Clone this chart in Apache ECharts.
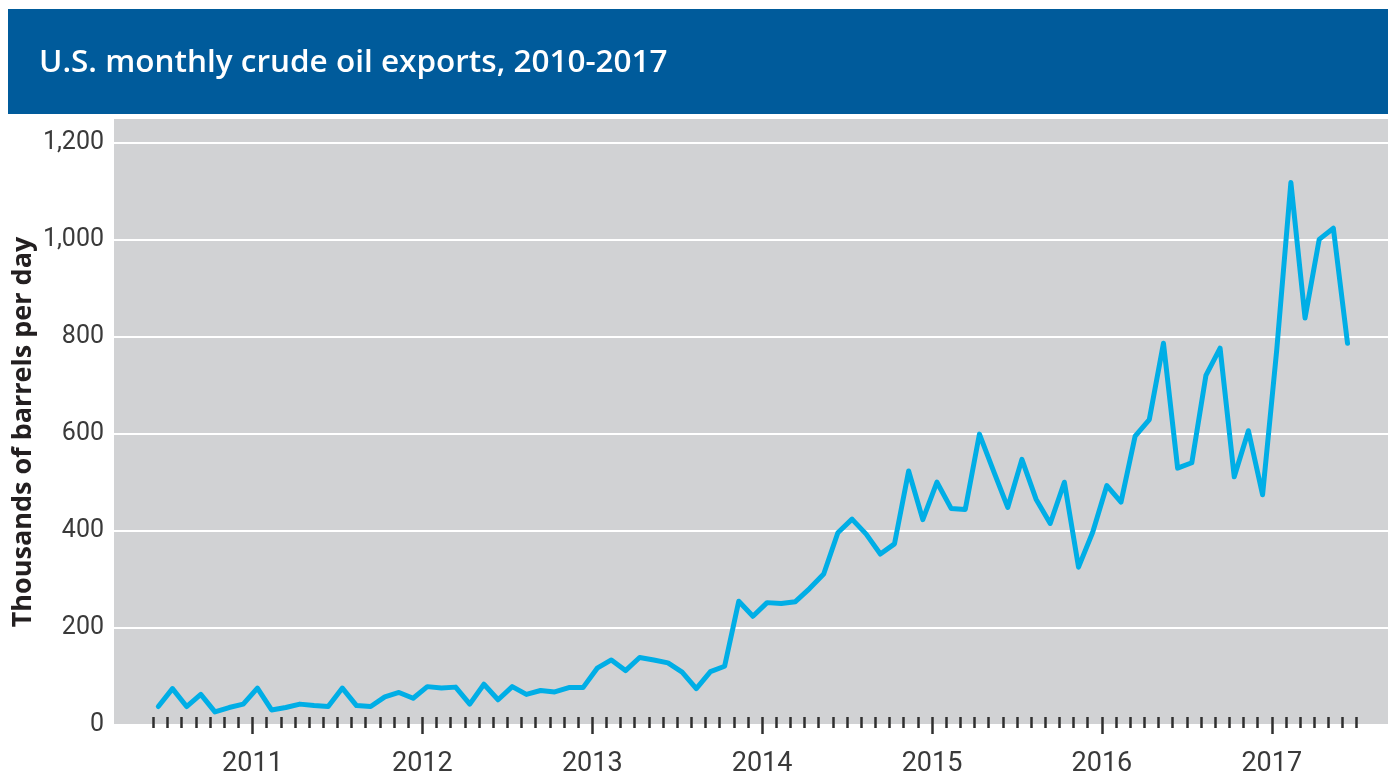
<!DOCTYPE html>
<html>
<head>
<meta charset="utf-8">
<script src="https://cdn.jsdelivr.net/npm/echarts@6/dist/echarts.min.js"></script>
<style>
  html, body { margin: 0; padding: 0; background: #ffffff; }
  #chart { width: 1388px; height: 778px; }
</style>
</head>
<body>
<div id="chart"></div>
<script>
// Titles
const TITLE = 'U.S. monthly crude oil exports, 2010-2017';
const Y_NAME = 'Thousands of barrels per day';

// Monthly crude oil exports, thousands of barrels per day
const exports2010 = [38, 75, 38, 63, 27, 36, 43];                                   // Jun–Dec
const exports2011 = [76, 31, 36, 43, 40, 38, 76, 40, 38, 58, 67, 55];
const exports2012 = [79, 76, 78, 43, 84, 52, 79, 63, 71, 68, 77, 77];
const exports2013 = [117, 134, 112, 139, 134, 128, 109, 75, 110, 121, 255, 224];
const exports2014 = [252, 250, 254, 281, 311, 396, 424, 393, 352, 373, 523, 423];
const exports2015 = [500, 446, 444, 599, 523, 448, 547, 465, 415, 500, 325, 397];
const exports2016 = [493, 459, 595, 629, 786, 529, 540, 720, 776, 511, 606, 474];
const exports2017 = [772, 1117, 838, 1000, 1023, 786];                              // Jan–Jun

// Axis ticks
const yTicks = [0, 200, 400, 600, 800, 1000, 1200];
const yearLabels = [2011, 2012, 2013, 2014, 2015, 2016, 2017];

// Months are counted from January 2010 (Jan 2010 = 0); the series starts in June 2010
const BASE_YEAR = 2010;
const FIRST_MONTH = 5;        // June 2010
const LAST_TICK_MONTH = 90;   // July 2017
const POINT_POS = 0.35;       // where a month's value sits inside its month slot

const values = [].concat(exports2010, exports2011, exports2012, exports2013,
                         exports2014, exports2015, exports2016, exports2017);
const seriesData = values.map((v, i) => [FIRST_MONTH + i + POINT_POS, v]);

const monthTicks = [];
for (let m = FIRST_MONTH; m <= LAST_TICK_MONTH; m++) monthTicks.push(m);
const yearTicks = yearLabels.map(y => (y - BASE_YEAR) * 12);

const X_MIN = 2.22, X_MAX = 92.21;

const chart = echarts.init(document.getElementById('chart'), null, { renderer: 'canvas' });

const baseX = {
  type: 'value',
  position: 'bottom',
  min: X_MIN,
  max: X_MAX,
  offset: -8,
  axisLine: { show: false },
  splitLine: { show: false }
};

chart.setOption({
  animation: false,
  backgroundColor: '#ffffff',
  graphic: [
    {
      type: 'rect',
      z: -1,
      shape: { x: 8, y: 9, width: 1380, height: 105 },
      style: { fill: '#005b9b' }
    },
    {
      type: 'text',
      x: 39,
      y: 63,
      style: {
        text: TITLE,
        fill: '#ffffff',
        fontFamily: 'Open Sans',
        fontWeight: 600,
        fontSize: 31.5,
        align: 'left',
        verticalAlign: 'middle'
      }
    },
    {
      type: 'text',
      x: 23,
      y: 432,
      rotation: Math.PI / 2,
      style: {
        text: Y_NAME,
        fill: '#231f20',
        fontFamily: 'Open Sans',
        fontWeight: 'bold',
        fontSize: 27,
        align: 'center',
        verticalAlign: 'middle'
      }
    }
  ],
  grid: {
    left: 114, right: 0, top: 118, bottom: 53,
    show: true,
    backgroundColor: '#d1d2d4',
    borderWidth: 0
  },
  xAxis: [
    Object.assign({}, baseX, {
      axisTick: {
        show: true, length: 11, customValues: monthTicks,
        lineStyle: { color: '#2f2f2f', width: 2.5 }
      },
      axisLabel: { show: false }
    }),
    Object.assign({}, baseX, {
      axisTick: {
        show: true, length: 17, customValues: yearTicks,
        lineStyle: { color: '#2f2f2f', width: 2.5 }
      },
      axisLabel: {
        show: true,
        customValues: yearTicks,
        formatter: v => String(BASE_YEAR + Math.round(v / 12)),
        margin: 34,
        color: '#3a3a3a',
        fontFamily: 'Roboto',
        fontSize: 27
      }
    })
  ],
  yAxis: {
    type: 'value',
    min: 0,
    max: 1250,
    interval: 200,
    axisLine: { show: false },
    axisTick: { show: false },
    axisLabel: {
      margin: 10,
      color: '#3a3a3a',
      fontFamily: 'Roboto',
      fontSize: 25,
      formatter: v => (yTicks.indexOf(v) >= 0 ? v.toLocaleString('en-US') : '')
    },
    splitLine: { show: true, lineStyle: { color: '#ffffff', width: 2 } }
  },
  series: [{
    type: 'line',
    xAxisIndex: 0,
    data: seriesData,
    showSymbol: false,
    symbol: 'none',
    lineStyle: { color: '#00aee6', width: 5, join: 'round', cap: 'round' },
    z: 5
  }]
});
</script>
</body>
</html>
